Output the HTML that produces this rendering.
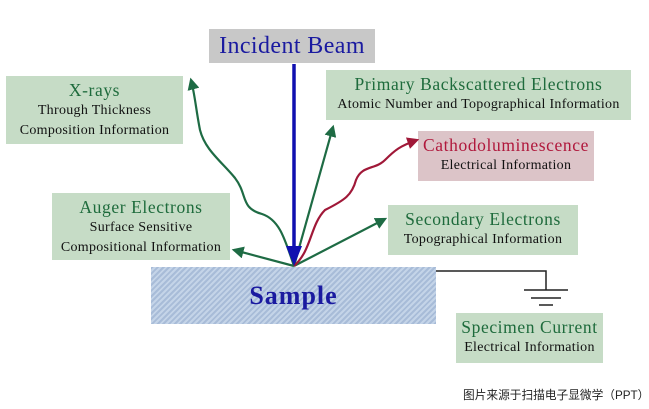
<!DOCTYPE html>
<html><head><meta charset="utf-8"><style>
body{margin:0;width:649px;height:409px;background:#fff;overflow:hidden;position:relative;font-family:"Liberation Serif",serif}
.b{position:absolute;background:#c6dcc6;text-align:center;color:#111;font-size:14px;line-height:20px;box-sizing:border-box;white-space:nowrap;letter-spacing:0.3px}
.t{color:#1e6b3c;font-size:17.5px;line-height:22px;letter-spacing:0.6px}
</style></head><body>
<div class="b" style="left:209px;top:29px;width:166px;height:34px;background:#c8c8c8;color:#1a1aa0;font-size:24px;line-height:34px;letter-spacing:0.4px">Incident Beam</div>
<div class="b" style="left:6px;top:76px;width:177px;height:68px;padding-top:3px"><div class="t">X-rays</div>Through Thickness<br>Composition Information</div>
<div class="b" style="left:326px;top:70px;width:305px;height:50px;padding-top:3px"><div class="t">Primary Backscattered Electrons</div>Atomic Number and Topographical Information</div>
<div class="b" style="left:418px;top:131px;width:176px;height:50px;padding-top:3px;background:#dcc4c8"><div class="t" style="color:#b0183c">Cathodoluminescence</div>Electrical Information</div>
<div class="b" style="left:52px;top:193px;width:178px;height:67px;padding-top:3px"><div class="t">Auger Electrons</div>Surface Sensitive<br>Compositional Information</div>
<div class="b" style="left:388px;top:205px;width:190px;height:50px;padding-top:3px"><div class="t">Secondary Electrons</div>Topographical Information</div>
<div class="b" style="left:456px;top:313px;width:147px;height:50px;padding-top:3px"><div class="t">Specimen Current</div>Electrical Information</div>
<div style="position:absolute;left:151px;top:267px;width:285px;height:57px;background:repeating-linear-gradient(135deg,#a8bcd8 0 2px,#c4d4e8 2px 4px);color:#1a1aa0;font-weight:bold;font-size:26px;letter-spacing:1px;text-align:center;line-height:57px;font-family:'Liberation Serif',serif">Sample</div>
<svg width="649" height="409" style="position:absolute;left:0;top:0">
<defs>
<marker id="g2" viewBox="0 0 10 10" markerWidth="12" markerHeight="12" refX="8" refY="5" orient="auto" markerUnits="userSpaceOnUse"><path d="M0,0L10,5L0,10z" fill="#1e6b44"/></marker>
<marker id="r" viewBox="0 0 10 10" markerWidth="12" markerHeight="12" refX="8" refY="5" orient="auto" markerUnits="userSpaceOnUse"><path d="M0,0L10,5L0,10z" fill="#a01838"/></marker>
</defs>
<g fill="none" stroke-width="2.2">
<path d="M294,266 C285,240 280,220 262,214 C240,208 248,195 235,178 C222,162 205,150 200,130 C196,110 195,95 191,80" stroke="#1e6b44" marker-end="url(#g2)"/>
<path d="M294,266 L333,127" stroke="#1e6b44" marker-end="url(#g2)"/>
<path d="M294,266 L385,219" stroke="#1e6b44" marker-end="url(#g2)"/>
<path d="M294,266 L234,250" stroke="#1e6b44" marker-end="url(#g2)"/>
<path d="M294,266 C312,250 310,225 325,210 C345,200 352,195 356,180 C362,165 375,170 385,160 C395,150 400,146 417,140" stroke="#a01838" marker-end="url(#r)"/>
<path d="M294,64 L294,250" stroke="#1010b0" stroke-width="3.5"/>
</g>
<path d="M286,246 L302,246 L294,266z" fill="#1010b0"/>
<g stroke="#222" stroke-width="1.5" fill="none">
<path d="M436,271 H546 V290"/>
<path d="M524,290 H568 M531,298 H561 M539,305 H553"/>
</g>
</svg>
<div style="position:absolute;left:463px;top:386px;font-size:11.7px;color:#222;font-family:'Liberation Sans','Noto Sans CJK SC',sans-serif">图片来源于扫描电子显微学（PPT）</div>
</body></html>
